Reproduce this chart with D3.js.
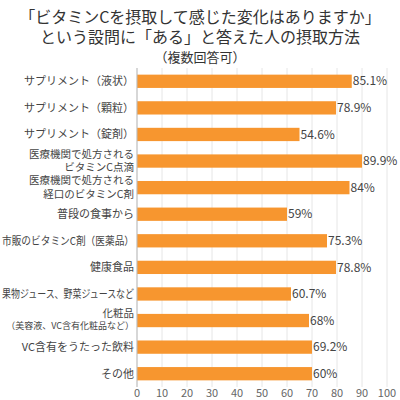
<!DOCTYPE html>
<meta charset="utf-8">
<style>
    body { margin: 0; background: #fff; }
    text { font-family: "Noto Sans CJK JP", sans-serif; fill: #444; }
    .grid line { stroke: #e6e6e6; }
    .axis text { font-size: 11px; fill: #666; }
</style>
<body>
<svg width="400" height="400"></svg>
</body>
<script src="https://cdn.jsdelivr.net/npm/d3@7"></script>
<script>
    var categories = [
        ["サプリメント（液状）"], ["サプリメント（顆粒）"], ["サプリメント（錠剤）"],
        ["医療機関で処方される", "ビタミンC点滴"], ["医療機関で処方される", "経口のビタミンC剤"],
        ["普段の食事から"], ["市販のビタミンC剤（医薬品）"], ["健康食品"],
        ["果物ジュース、野菜ジュースなど"], ["化粧品", "（美容液、VC含有化粧品など）"],
        ["VC含有をうたった飲料"], ["その他"]
    ];
    // bar lengths as drawn in the picture
    var barValues = [85.9, 79.6, 65, 90, 85, 60, 76, 79.6, 61.6, 68.8, 70, 70];
    var valueLabels = ["85.1%", "78.9%", "54.6%", "89.9%", "84%", "59%", "75.3%", "78.8%", "60.7%", "68%", "69.2%", "60%"];
    var ticks = [0, 10, 20, 30, 40, 50, 60, 70, 80, 90, 100];

    var svg = d3.select("svg");
    var x = d3.scaleLinear().domain([0, 100]).range([137, 387]);
    var y = d3.scaleBand().domain(d3.range(categories.length)).range([68, 387]).paddingInner(0.5).paddingOuter(0.25);

    svg.append("g").attr("class", "grid").selectAll("line").data(ticks).enter().append("line")
        .attr("x1", d => x(d)).attr("x2", d => x(d)).attr("y1", 68).attr("y2", 387);

    svg.selectAll(".bar").data(barValues).enter().append("rect")
        .attr("class", "bar")
        .attr("x", x(0)).attr("y", (d, i) => y(i))
        .attr("width", d => x(d) - x(0)).attr("height", y.bandwidth())
        .attr("fill", "#f7962f");

    svg.selectAll(".val").data(valueLabels).enter().append("text")
        .attr("x", (d, i) => x(barValues[i]) + 1).attr("y", (d, i) => y(i) + y.bandwidth() / 2)
        .attr("dy", "0.35em").style("font-size", "12px").text(d => d);

    function fit(t, max) {
        var w = t.node().getComputedTextLength();
        if (w > max) t.attr("textLength", max).attr("lengthAdjust", "spacingAndGlyphs");
    }

    var lab = svg.selectAll(".cat").data(categories).enter().append("text")
        .attr("text-anchor", "end").attr("x", 134)
        .attr("y", (d, i) => y(i) + y.bandwidth() / 2);
    lab.each(function (d) {
        var t = d3.select(this);
        if (d.length === 1) {
            var s = t.append("tspan").attr("x", 134).attr("dy", "0.35em").style("font-size", "11px").text(d[0]);
            fit(s, 132);
        } else {
            var a = t.append("tspan").attr("x", 134).attr("dy", "-0.3em").style("font-size", "10.5px").text(d[0]);
            var b = t.append("tspan").attr("x", 134).attr("dy", "1.25em")
                .style("font-size", d[1].length > 12 ? "9px" : "10.5px").text(d[1]);
            fit(a, 120); fit(b, 128);
        }
    });

    svg.append("g").attr("class", "axis").selectAll("text").data(ticks).enter().append("text")
        .attr("x", d => x(d)).attr("y", 397).attr("text-anchor", "middle").text(d => d);

    svg.append("line").attr("x1", x(0)).attr("x2", x(0)).attr("y1", 68).attr("y2", 387).attr("stroke", "#bbb");

    var titles = [["「ビタミンCを摂取して感じた変化はありますか」", 17, 16], ["という設問に「ある」と答えた人の摂取方法", 37, 16], ["（複数回答可）", 57, 13]];
    svg.selectAll(".title").data(titles).enter().append("text")
        .attr("x", 200).attr("y", d => d[1]).attr("dy", "0.35em").attr("text-anchor", "middle")
        .style("font-size", d => d[2] + "px").style("fill", "#333").text(d => d[0]);
</script>
